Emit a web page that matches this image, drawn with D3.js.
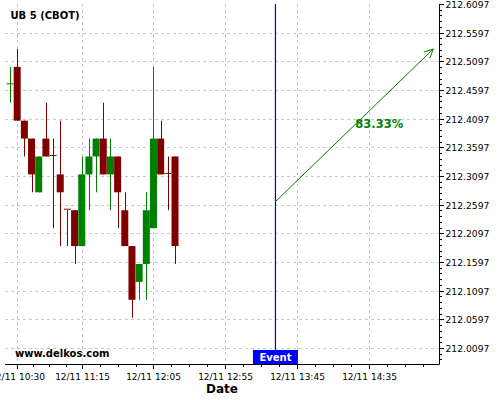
<!DOCTYPE html>
<html><head><meta charset="utf-8">
<script src="https://cdn.jsdelivr.net/npm/d3@7"></script>
<style>body{margin:0;background:#fff} svg{display:block}</style>
</head><body><svg id="c" width="500" height="400"></svg>
<script>
// ---- data ----
const title = "UB 5 (CBOT)";
const watermark = "www.delkos.com";
const xTitle = "Date";
const times  = ["10:25","10:30","10:35","10:40","10:45","10:50","10:55","11:00","11:05","11:10","11:15","11:20",
                "11:25","11:30","11:35","11:40","11:45","11:50","11:55","12:00","12:05","12:10","12:15","12:20"];
const opens  = [212.46875,212.5,212.40625,212.375,212.28125,212.375,212.34375,212.3125,212.25,212.25,212.1875,212.3125,
                212.34375,212.375,212.3125,212.34375,212.25,212.1875,212.125,212.15625,212.21875,212.375,212.3125,212.34375];
const highs  = [212.5,212.53125,212.40625,212.375,212.34375,212.4375,212.375,212.40625,212.25,212.25,212.34375,212.375,
                212.375,212.4375,212.375,212.34375,212.28125,212.1875,212.15625,212.28125,212.5,212.40625,212.34375,212.34375];
const lows   = [212.4375,212.40625,212.34375,212.28125,212.28125,212.34375,212.21875,212.1875,212.1875,212.15625,212.1875,212.25,
                212.28125,212.3125,212.25,212.21875,212.1875,212.0625,212.09375,212.09375,212.21875,212.3125,212.25,212.15625];
const closes = [212.46875,212.40625,212.375,212.3125,212.34375,212.34375,212.34375,212.28125,212.25,212.1875,212.3125,212.34375,
                212.375,212.3125,212.34375,212.28125,212.1875,212.09375,212.15625,212.25,212.375,212.3125,212.3125,212.1875];
const xTickTimes  = ["10:30","11:15","12:05","12:55","13:45","14:35"];
const xTickLabels = ["12/11 10:30","12/11 11:15","12/11 12:05","12/11 12:55","12/11 13:45","12/11 14:35"];
const yTicks = [212.0097,212.0597,212.1097,212.1597,212.2097,212.2597,212.3097,212.3597,212.4097,212.4597,212.5097,212.5597,212.6097];
const eventTime = "13:30";
const eventLabel = "Event";
const arrowTimes  = ["13:30","15:20"];
const arrowPrices = [212.265, 212.53125];
const arrowLabel = "83.33%";
const xDomain = ["10:21:30","15:24:00"];
const yDomain = [211.9818, 212.6097];

// ---- chart ----
const svg = d3.select("#c");
const FONT = "DejaVu Sans, sans-serif";
const GREEN = "#008000", RED = "#800000";
const pT = d3.timeParse("%H:%M"), pTs = d3.timeParse("%H:%M:%S");
const L = 5, R = 439, T = 4, B = 364;
const x = d3.scaleTime().domain(xDomain.map(pTs)).range([L, R]);
const y = d3.scaleLinear().domain(yDomain).range([B, T]);

// grid
const grid = svg.append("g").attr("stroke", "#c8c8c8").attr("stroke-dasharray", "3,3").attr("stroke-width", 1);
yTicks.forEach(v => { const yy = Math.round(y(v)) + 0.5; if (yy > T + 2)
  grid.append("line").attr("x1", L).attr("x2", R).attr("y1", yy).attr("y2", yy); });
xTickTimes.forEach(t => { const xx = Math.round(x(pT(t))) + 0.5;
  grid.append("line").attr("x1", xx).attr("x2", xx).attr("y1", T).attr("y2", B); });

// candles
const data = times.map((t, i) => ({t: pT(t), o: opens[i], h: highs[i], l: lows[i], c: closes[i], prev: i > 0 ? closes[i-1] : null}));
const up = d => d.c > d.o || (d.c === d.o && (d.prev === null || d.c > d.prev));
const bw = 7;
const cg = svg.append("g");
data.forEach(d => {
  const cx = x(d.t), col = up(d) ? GREEN : RED;
  cg.append("line").attr("x1", Math.round(cx) + 0.5).attr("x2", Math.round(cx) + 0.5)
    .attr("y1", y(d.h)).attr("y2", y(d.l)).attr("stroke", col).attr("stroke-width", 1);
  const top = y(Math.max(d.o, d.c)), bot = y(Math.min(d.o, d.c));
  if (bot - top < 1) {
    cg.append("line").attr("x1", cx - bw/2).attr("x2", cx + bw/2).attr("y1", top - 1).attr("y2", top - 1)
      .attr("stroke", col).attr("stroke-width", 1);
  } else {
    cg.append("rect").attr("x", cx - bw/2).attr("y", top).attr("width", bw).attr("height", bot - top).attr("fill", col);
  }
});

// event line
const ex = x(pT(eventTime));
svg.append("line").attr("x1", ex).attr("x2", ex).attr("y1", T).attr("y2", B).attr("stroke", "#0000ff").attr("stroke-width", 1.2);

// forecast arrow
const ax1 = x(pT(arrowTimes[0])), ay1 = y(arrowPrices[0]), ax2 = x(pT(arrowTimes[1])), ay2 = y(arrowPrices[1]);
svg.append("line").attr("x1", ax1).attr("y1", ay1).attr("x2", ax2).attr("y2", ay2).attr("stroke", GREEN).attr("stroke-width", 1);
const ang = Math.atan2(ay2 - ay1, ax2 - ax1), hl = 10, ha = 0.45;
svg.append("path").attr("d", `M${ax2 - hl*Math.cos(ang - ha)},${ay2 - hl*Math.sin(ang - ha)} L${ax2},${ay2} L${ax2 - hl*Math.cos(ang + ha)},${ay2 - hl*Math.sin(ang + ha)}`)
  .attr("fill", "none").attr("stroke", GREEN).attr("stroke-width", 1);
svg.append("text").attr("x", (ax1 + ax2)/2 + 1).attr("y", (ay1 + ay2)/2 + 2.5).attr("font-family", FONT)
  .attr("font-weight", "bold").attr("font-size", 11.5).attr("fill", GREEN).text(arrowLabel);

// axes
svg.append("line").attr("x1", L).attr("x2", R + 0.5).attr("y1", B + 0.5).attr("y2", B + 0.5).attr("stroke", "#000");
svg.append("line").attr("x1", R + 0.5).attr("x2", R + 0.5).attr("y1", T).attr("y2", B + 0.5).attr("stroke", "#000");

// x ticks
const xt = xTickTimes.map(pT);
const minor = [];
for (let i = 0; i < xt.length - 1; i++) for (let k = 1; k < 4; k++)
  minor.push(new Date(+xt[i] + (xt[i+1] - xt[i]) * k / 4));
const step = xt[xt.length-1] - xt[xt.length-2];
for (let k = 1; k < 4; k++) minor.push(new Date(+xt[xt.length-1] + step * k / 4));
minor.forEach(t => { const xx = Math.round(x(t)) + 0.5;
  svg.append("line").attr("x1", xx).attr("x2", xx).attr("y1", B).attr("y2", B + 3).attr("stroke", "#000"); });
xt.forEach((t, i) => { const xx = Math.round(x(t)) + 0.5;
  svg.append("line").attr("x1", xx).attr("x2", xx).attr("y1", B).attr("y2", B + 5).attr("stroke", "#000");
  svg.append("text").attr("x", xx).attr("y", 380).attr("text-anchor", "middle").attr("font-family", FONT)
    .attr("font-size", 9).attr("fill", "#000").text(xTickLabels[i]); });

// y ticks
const ymin = [];
for (let i = 0; i < yTicks.length - 1; i++) for (let k = 1; k < 5; k++) ymin.push(yTicks[i] + (yTicks[i+1] - yTicks[i]) * k / 5);
for (let k = 1; k < 3; k++) ymin.push(yTicks[0] - 0.01 * k);
ymin.forEach(v => { const yy = Math.round(y(v)) + 0.5; if (yy <= B && yy >= T)
  svg.append("line").attr("x1", R).attr("x2", R + 3).attr("y1", yy).attr("y2", yy).attr("stroke", "#000"); });
yTicks.forEach(v => { const yy = Math.round(y(v)) + 0.5;
  svg.append("line").attr("x1", R).attr("x2", R + 5).attr("y1", yy).attr("y2", yy).attr("stroke", "#000");
  svg.append("text").attr("x", 445.5).attr("y", yy).attr("dy", "0.35em").attr("font-family", FONT)
    .attr("font-size", 9.2).attr("fill", "#000").text(d3.format(".4f")(v)); });

// event label box
svg.append("rect").attr("x", ex - 22.5).attr("y", 350).attr("width", 45).attr("height", 14).attr("fill", "#0000ff");
svg.append("text").attr("x", ex).attr("y", 360.5).attr("text-anchor", "middle").attr("font-family", FONT)
  .attr("font-weight", "bold").attr("font-size", 10).attr("fill", "#fff").text(eventLabel);

// titles
svg.append("text").attr("x", 10.5).attr("y", 19).attr("font-family", FONT).attr("font-weight", "bold")
  .attr("font-size", 10).attr("fill", "#000").text(title);
svg.append("text").attr("x", 15).attr("y", 357).attr("font-family", FONT).attr("font-weight", "bold")
  .attr("font-size", 10).attr("fill", "#000").text(watermark);
svg.append("text").attr("x", (L + R)/2).attr("y", 393).attr("text-anchor", "middle").attr("font-family", FONT)
  .attr("font-weight", "bold").attr("font-size", 12).attr("fill", "#000").text(xTitle);
</script></body></html>
